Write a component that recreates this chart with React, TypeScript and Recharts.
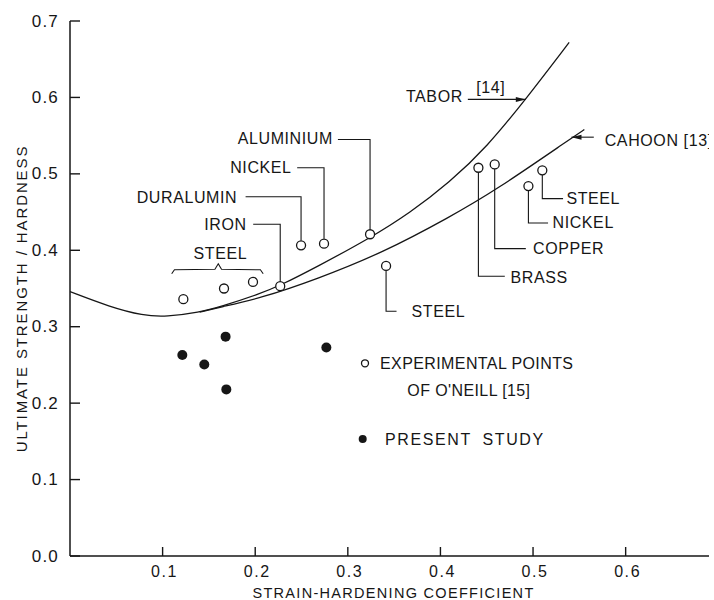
import React from 'react';
import { ComposedChart, Line, Scatter, XAxis, YAxis, Legend } from 'recharts';

const INK = '#161616';
const FONT = '"Liberation Sans", Arial, Helvetica, sans-serif';

// axis ticks
const xTicks = [0.1, 0.2, 0.3, 0.4, 0.5, 0.6];
const yTicks = [0, 0.1, 0.2, 0.3, 0.4, 0.5, 0.6, 0.7];

// experimental points of O'Neill [15] (open circles)
const oneillPoints = [
  { x: 0.1224, y: 0.336 },
  { x: 0.1663, y: 0.35 },
  { x: 0.1976, y: 0.3586 },
  { x: 0.227, y: 0.353 },
  { x: 0.2495, y: 0.4065 },
  { x: 0.2743, y: 0.4087 },
  { x: 0.324, y: 0.421 },
  { x: 0.3413, y: 0.3795 },
  { x: 0.441, y: 0.508 },
  { x: 0.4586, y: 0.5124 },
  { x: 0.495, y: 0.484 },
  { x: 0.51, y: 0.5046 },
];

// present study (filled dots)
const presentPoints = [
  { x: 0.1213, y: 0.263 },
  { x: 0.145, y: 0.2506 },
  { x: 0.168, y: 0.287 },
  { x: 0.1688, y: 0.218 },
  { x: 0.2768, y: 0.2728 },
];

// Tabor [14] curve
const taborCurve = [
  { x: 0, y: 0.346 },
  { x: 0.043, y: 0.326 },
  { x: 0.079, y: 0.3145 },
  { x: 0.104, y: 0.313 },
  { x: 0.14, y: 0.319 },
  { x: 0.162, y: 0.326 },
  { x: 0.205, y: 0.343 },
  { x: 0.227, y: 0.354 },
  { x: 0.266, y: 0.378 },
  { x: 0.324, y: 0.416 },
  { x: 0.367, y: 0.449 },
  { x: 0.41, y: 0.489 },
  { x: 0.45, y: 0.535 },
  { x: 0.4924, y: 0.598 },
  { x: 0.539, y: 0.672 },
];

// Cahoon [13] curve
const cahoonCurve = [
  { x: 0.14, y: 0.319 },
  { x: 0.162, y: 0.3255 },
  { x: 0.205, y: 0.337 },
  { x: 0.266, y: 0.362 },
  { x: 0.338, y: 0.397 },
  { x: 0.41, y: 0.4435 },
  { x: 0.459, y: 0.478 },
  { x: 0.5418, y: 0.547 },
  { x: 0.5554, y: 0.558 },
];

// leader lines (in data units)
const leaderAluminium = [{ x: 0.2893, y: 0.545 }, { x: 0.324, y: 0.545 }, { x: 0.324, y: 0.427 }];
const leaderNickelL = [{ x: 0.2453, y: 0.508 }, { x: 0.2743, y: 0.508 }, { x: 0.2743, y: 0.415 }];
const leaderDuralumin = [{ x: 0.1896, y: 0.47 }, { x: 0.2495, y: 0.47 }, { x: 0.2495, y: 0.4125 }];
const leaderIron = [{ x: 0.1978, y: 0.434 }, { x: 0.227, y: 0.434 }, { x: 0.227, y: 0.359 }];
const leaderSteelMid = [{ x: 0.3413, y: 0.3735 }, { x: 0.3413, y: 0.3203 }, { x: 0.3526, y: 0.3203 }];
const leaderBrass = [{ x: 0.441, y: 0.502 }, { x: 0.441, y: 0.366 }, { x: 0.4695, y: 0.366 }];
const leaderCopper = [{ x: 0.4586, y: 0.5064 }, { x: 0.4586, y: 0.4022 }, { x: 0.4922, y: 0.4022 }];
const leaderNickelR = [{ x: 0.495, y: 0.478 }, { x: 0.495, y: 0.4357 }, { x: 0.5162, y: 0.4357 }];
const leaderSteelR = [{ x: 0.51, y: 0.4986 }, { x: 0.51, y: 0.4676 }, { x: 0.5324, y: 0.4676 }];
const steelBrace = [
  { x: 0.1098, y: 0.3693 },
  { x: 0.1128, y: 0.3745 },
  { x: 0.1565, y: 0.3752 },
  { x: 0.1601, y: 0.3824 },
  { x: 0.1636, y: 0.3752 },
  { x: 0.2056, y: 0.3745 },
  { x: 0.2086, y: 0.3693 },
];
const taborArrowLine = [{ x: 0.4296, y: 0.5974 }, { x: 0.4922, y: 0.5974 }];
const cahoonArrowLine = [{ x: 0.5656, y: 0.548 }, { x: 0.5415, y: 0.548 }];

const leaders = [
  leaderAluminium, leaderNickelL, leaderDuralumin, leaderIron, leaderSteelMid,
  leaderBrass, leaderCopper, leaderNickelR, leaderSteelR, steelBrace,
  taborArrowLine, cahoonArrowLine,
];

const arrowHeads = [
  { x: 0.4922, y: 0.5974, dir: 'right' },
  { x: 0.5415, y: 0.548, dir: 'left' },
];

const annotations = [
  { x: 0.4242, y: 0.601, text: 'TABOR', anchor: 'end' },
  { x: 0.4544, y: 0.6135, text: '[14]', anchor: 'middle' },
  { x: 0.5774, y: 0.5438, text: 'CAHOON [13]', anchor: 'start' },
  { x: 0.2839, y: 0.546, text: 'ALUMINIUM', anchor: 'end' },
  { x: 0.2393, y: 0.508, text: 'NICKEL', anchor: 'end' },
  { x: 0.1806, y: 0.4697, text: 'DURALUMIN', anchor: 'end' },
  { x: 0.1907, y: 0.4336, text: 'IRON', anchor: 'end' },
  { x: 0.1624, y: 0.3957, text: 'STEEL', anchor: 'middle' },
  { x: 0.3688, y: 0.3203, text: 'STEEL', anchor: 'start' },
  { x: 0.4757, y: 0.3647, text: 'BRASS', anchor: 'start' },
  { x: 0.5, y: 0.402, text: 'COPPER', anchor: 'start' },
  { x: 0.521, y: 0.4366, text: 'NICKEL', anchor: 'start' },
  { x: 0.536, y: 0.4676, text: 'STEEL', anchor: 'start' },
];

const TICK_MARGIN = 8;

const YTick = (props: any) => {
  const { x, y, payload } = props;
  const ax = x + TICK_MARGIN;
  return (
    <g>
      <line x1={ax} x2={ax + 10} y1={y} y2={y} stroke={INK} strokeWidth={1.4} />
      <text x={x - 3} y={y} textAnchor="end" dominantBaseline="central" fill={INK}
        fontSize={17} fontFamily={FONT} letterSpacing={1.2}>
        {Number(payload.value).toFixed(1)}
      </text>
    </g>
  );
};

const XTick = (props: any) => {
  const { x, y, payload } = props;
  const ay = y - TICK_MARGIN;
  return (
    <g>
      <line x1={x} x2={x} y1={ay} y2={ay - 9} stroke={INK} strokeWidth={1.4} />
      <text x={x + 2} y={ay + 21} textAnchor="middle" fill={INK}
        fontSize={16} fontFamily={FONT} letterSpacing={1.6}>
        {Number(payload.value).toFixed(1)}
      </text>
    </g>
  );
};

const OpenCircle = (p: any) => (
  <circle cx={p.cx} cy={p.cy} r={4.5} fill="#fff" stroke={INK} strokeWidth={1.3} />
);
const FilledDot = (p: any) => <circle cx={p.cx} cy={p.cy} r={5} fill={INK} />;

const AnnotationText = (p: any) => (
  <text x={p.cx} y={p.cy} textAnchor={p.payload.anchor} dominantBaseline="central" fill={INK}
    style={{ fontFamily: FONT, fontSize: 16, letterSpacing: 0.6 }}>
    {p.payload.text}
  </text>
);

const ArrowHead = (p: any) => {
  const s = p.payload.dir === 'right' ? -1 : 1;
  const pts = `${p.cx},${p.cy} ${p.cx + s * 10},${p.cy - 2.5} ${p.cx + s * 10},${p.cy + 2.5}`;
  return <polygon points={pts} fill={INK} />;
};

const XLabel = (props: any) => {
  const vb = props.viewBox || {};
  return (
    <text x={vb.x + vb.width / 2 + 4} y={vb.y + vb.height - 2} textAnchor="middle" fill={INK}
      style={{ fontFamily: FONT, fontSize: 14.5, letterSpacing: 1.3 }}>
      STRAIN-HARDENING COEFFICIENT
    </text>
  );
};

const YLabel = (props: any) => {
  const vb = props.viewBox || {};
  const cx = vb.x + 21.5;
  const cy = vb.y + vb.height / 2 + 10;
  return (
    <text x={cx} y={cy} transform={`rotate(-90, ${cx}, ${cy})`} textAnchor="middle"
      dominantBaseline="central" fill={INK}
      style={{ fontFamily: FONT, fontSize: 15, letterSpacing: 1.9 }}>
      ULTIMATE STRENGTH / HARDNESS
    </text>
  );
};

const legendItems = [
  { lines: ['EXPERIMENTAL POINTS', "OF O'NEILL [15]"], filled: false },
  { lines: ['PRESENT STUDY'], filled: true },
];

const LegendContent = () => (
  <svg width={240} height={110} style={{ overflow: 'visible' }}>
    <circle cx={15} cy={18.3} r={3.5} fill="#fff" stroke={INK} strokeWidth={1.3} />
    <text x={30} y={18.3} dominantBaseline="central" fill={INK}
      style={{ fontFamily: FONT, fontSize: 16, letterSpacing: 0.4 }}>{legendItems[0].lines[0]}</text>
    <text x={57.3} y={45.7} dominantBaseline="central" fill={INK}
      style={{ fontFamily: FONT, fontSize: 16, letterSpacing: 0.4 }}>{legendItems[0].lines[1]}</text>
    <circle cx={12.7} cy={94} r={4} fill={INK} />
    <text x={35} y={94} dominantBaseline="central" fill={INK}
      style={{ fontFamily: FONT, fontSize: 16, letterSpacing: 1.6, wordSpacing: 5 }}>{legendItems[1].lines[0]}</text>
  </svg>
);

export default function App() {
  return (
    <div style={{ position: 'absolute', left: 0, top: 0, width: 714, height: 600, background: '#fff', fontFamily: FONT }}>
      <ComposedChart width={714} height={600} margin={{ top: 21, right: 5, left: 0, bottom: 0 }}>
        <XAxis
          type="number"
          dataKey="x"
          domain={[0, 0.69]}
          allowDataOverflow
          ticks={xTicks}
          interval={0}
          height={44}
          tickSize={0}
          tickMargin={TICK_MARGIN}
          tickLine={false}
          tick={<XTick />}
          axisLine={{ stroke: INK, strokeWidth: 1.5 }}
          label={<XLabel />}
        />
        <YAxis
          type="number"
          dataKey="y"
          domain={[0, 0.7]}
          allowDataOverflow
          ticks={yTicks}
          interval={0}
          width={70}
          tickSize={0}
          tickMargin={TICK_MARGIN}
          tickLine={false}
          tick={<YTick />}
          axisLine={{ stroke: INK, strokeWidth: 1.5 }}
          label={<YLabel />}
        />
        <Line data={taborCurve} dataKey="y" type="basis" stroke={INK} strokeWidth={1.3}
          dot={false} activeDot={false} isAnimationActive={false} legendType="none" name="Tabor" />
        <Line data={cahoonCurve} dataKey="y" type="basis" stroke={INK} strokeWidth={1.3}
          dot={false} activeDot={false} isAnimationActive={false} legendType="none" name="Cahoon" />
        {leaders.map((seg, i) => (
          <Line key={`ld${i}`} data={seg} dataKey="y" type="linear" stroke={INK} strokeWidth={1.1}
            dot={false} activeDot={false} isAnimationActive={false} legendType="none" />
        ))}
        <Scatter data={arrowHeads} shape={ArrowHead} isAnimationActive={false} legendType="none" />
        <Scatter data={annotations} shape={AnnotationText} isAnimationActive={false} legendType="none" />
        <Scatter name="EXPERIMENTAL POINTS OF O'NEILL [15]" data={oneillPoints} shape={OpenCircle} isAnimationActive={false} />
        <Scatter name="PRESENT STUDY" data={presentPoints} shape={FilledDot} isAnimationActive={false} />
        <Legend
          layout="horizontal"
          verticalAlign="middle"
          align="center"
          wrapperStyle={{ left: 350, top: 345, width: 240, height: 110 }}
          content={<LegendContent />}
        />
      </ComposedChart>
    </div>
  );
}
